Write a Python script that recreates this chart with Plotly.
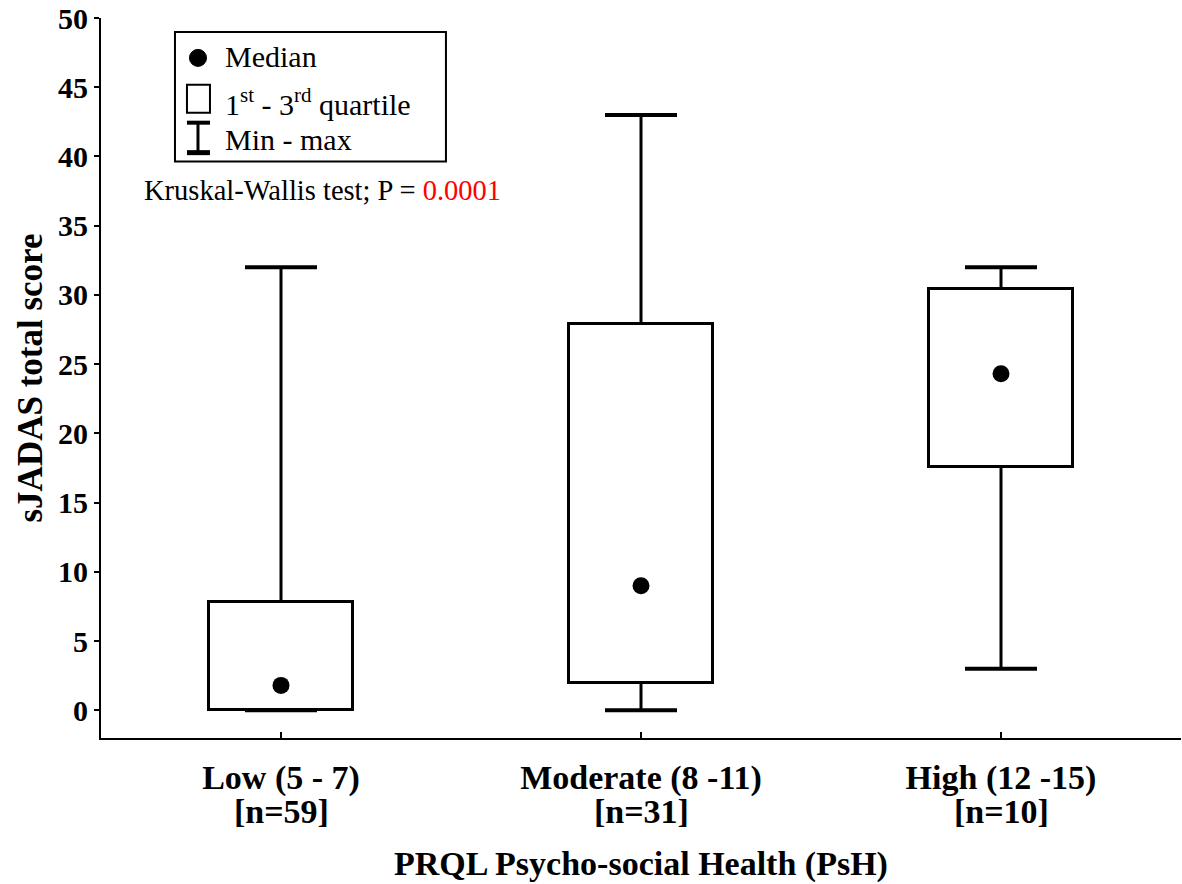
import plotly.graph_objects as go

categories = ["Low (5 - 7)", "Moderate (8 -11)", "High (12 -15)"]
group_n = ["[n=59]", "[n=31]", "[n=10]"]
mins = [0, 0, 3]
q1s = [0, 2, 17.6]
medians = [1.8, 9.0, 24.3]
q3s = [7.8, 27.9, 30.4]
maxs = [32, 43, 32]
y_ticks = [0, 5, 10, 15, 20, 25, 30, 35, 40, 45, 50]

FONT = "Liberation Serif"
BOXW = 0.4
CAPW = 0.2

xs = list(range(len(categories)))

fig = go.Figure()

# whiskers
wx, wy = [], []
for i in xs:
    wx += [i, i, None, i, i, None]
    wy += [mins[i], q1s[i], None, q3s[i], maxs[i], None]
fig.add_trace(go.Scatter(x=wx, y=wy, mode="lines", line=dict(color="black", width=3),
                         showlegend=False, hoverinfo="skip"))
# caps
cx, cy = [], []
for i in xs:
    cx += [i - CAPW / 2, i + CAPW / 2, None, i - CAPW / 2, i + CAPW / 2, None]
    cy += [maxs[i], maxs[i], None, mins[i], mins[i], None]
fig.add_trace(go.Scatter(x=cx, y=cy, mode="lines", line=dict(color="black", width=4),
                         showlegend=False, hoverinfo="skip"))
# boxes
fig.add_trace(go.Bar(x=xs, y=[q3s[i] - q1s[i] for i in xs], base=q1s, width=BOXW,
                     marker=dict(color="white", line=dict(color="black", width=3)),
                     showlegend=False, hoverinfo="skip"))
# medians
fig.add_trace(go.Scatter(x=xs, y=medians, mode="markers",
                         marker=dict(color="black", size=17, symbol="circle"),
                         showlegend=False))

# legend (drawn manually, paper coordinates)
shapes = [
    dict(type="rect", xref="paper", yref="paper", x0=0.0685, x1=0.3194, y0=0.8006, y1=0.9806,
         line=dict(color="black", width=2), fillcolor="white", layer="above"),
    dict(type="circle", xref="paper", yref="paper", x0=0.0819, x1=0.0977, y0=0.9328, y1=0.9564,
         line=dict(color="black", width=1), fillcolor="black", layer="above"),
    dict(type="rect", xref="paper", yref="paper", x0=0.0796, x1=0.1009, y0=0.8684, y1=0.9072,
         line=dict(color="black", width=2), fillcolor="white", layer="above"),
    dict(type="line", xref="paper", yref="paper", x0=0.0898, x1=0.0898, y0=0.8130, y1=0.8546,
         line=dict(color="black", width=3), layer="above"),
    dict(type="line", xref="paper", yref="paper", x0=0.0796, x1=0.1009, y0=0.8546, y1=0.8546,
         line=dict(color="black", width=4), layer="above"),
    dict(type="line", xref="paper", yref="paper", x0=0.0796, x1=0.1009, y0=0.8130, y1=0.8130,
         line=dict(color="black", width=5), layer="above"),
]
annotations = [
    dict(xref="paper", yref="paper", x=0.1126, y=0.946, xanchor="left", yanchor="middle",
         text="Median", showarrow=False, font=dict(family=FONT, size=30, color="black")),
    dict(xref="paper", yref="paper", x=0.1126, y=0.8837, xanchor="left", yanchor="middle",
         text="1<sup>st</sup> - 3<sup>rd</sup> quartile", showarrow=False,
         font=dict(family=FONT, size=30, color="black")),
    dict(xref="paper", yref="paper", x=0.1126, y=0.8310, xanchor="left", yanchor="middle",
         text="Min - max", showarrow=False, font=dict(family=FONT, size=30, color="black")),
    dict(xref="paper", yref="paper", x=0.0380, y=0.7604, xanchor="left", yanchor="middle",
         text="Kruskal-Wallis test; P = <span style='color:red'>0.0001</span>", showarrow=False,
         font=dict(family=FONT, size=28.5, color="black")),
]
for i in xs:
    annotations.append(dict(xref="x", yref="paper", x=i, y=-0.1025, xanchor="center", yanchor="middle",
                            text="<b>%s</b>" % group_n[i], showarrow=False,
                            font=dict(family=FONT, size=34, color="black")))

fig.update_layout(
    width=1182, height=884,
    margin=dict(l=101, r=1, t=16, b=146),
    paper_bgcolor="white", plot_bgcolor="white",
    shapes=shapes, annotations=annotations,
    bargap=0,
    showlegend=False,
    font=dict(family=FONT, color="black"),
)
fig.update_xaxes(
    range=[-0.5, 2.5], tickmode="array", tickvals=xs, ticktext=["<b>%s</b>" % c for c in categories],
    showline=True, linecolor="black", linewidth=2, showgrid=False, zeroline=False,
    ticks="inside", ticklen=6, tickwidth=2, tickcolor="black", ticklabelstandoff=8,
    tickfont=dict(family=FONT, size=34, color="black"),
    title=dict(text="<b>PRQL Psycho-social Health (PsH)</b>", font=dict(family=FONT, size=34, color="black"),
               standoff=55),
)
fig.update_yaxes(
    range=[-2, 50], tickmode="array", tickvals=y_ticks, ticktext=["<b>%d</b>" % v for v in y_ticks],
    showline=True, linecolor="black", linewidth=2, showgrid=False, zeroline=False,
    ticks="outside", ticklen=5, tickwidth=2, tickcolor="black", ticklabeloverflow="allow",
    tickfont=dict(family=FONT, size=30, color="black"),
    title=dict(text="<b>sJADAS total score</b>", font=dict(family=FONT, size=35, color="black"),
               standoff=5),
)

fig.write_html("out.html", config={"displayModeBar": False},
               post_script="document.body.style.margin='0';document.body.style.overflow='hidden';")
